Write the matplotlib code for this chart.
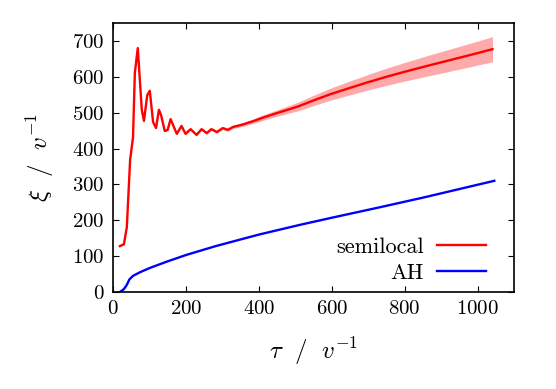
import numpy as np
import matplotlib.pyplot as plt

plt.rcParams['font.family'] = 'serif'
plt.rcParams['font.serif'] = ['cmr10']
plt.rcParams['mathtext.fontset'] = 'cm'
plt.rcParams['axes.formatter.use_mathtext'] = True

# semilocal string network length
tau_semi = [19, 30, 38, 47, 55, 60, 68, 79, 85, 94, 101, 110, 118, 126, 132, 142,
            150, 158, 175, 188, 199, 213, 229, 243, 257, 270, 285, 301, 315, 329,
            356, 384, 411, 438, 466, 507, 550, 595, 650, 700, 750, 800, 868, 950,
            1000, 1041]
xi_semi = [128, 133, 181, 368, 432, 611, 680, 508, 477, 549, 561, 474, 457, 508, 493, 449,
           452, 482, 441, 463, 441, 454, 438, 454, 443, 454, 446, 457, 452, 460,
           467, 476, 486, 495, 504, 517, 534, 551, 569, 585, 600, 614, 632, 653,
           666, 677]
# error band
tau_err = [19, 250, 350, 450, 600, 750, 900, 1041]
err = [2, 3, 5, 9, 17, 24, 30, 35]

# Abelian-Higgs
tau_ah = [19, 30, 38, 45, 55, 74, 101, 146, 200, 282, 400, 512, 600, 731, 850, 950, 1046]
xi_ah = [0, 8, 20, 35, 45, 55, 67, 84, 103, 128, 160, 187, 207, 236, 263, 287, 310]

fig = plt.figure(figsize=(5.56, 3.89), dpi=100)
ax = fig.add_axes([0.2032, 0.2494, 0.7213, 0.6915])

e = np.interp(tau_semi, tau_err, err)
ax.fill_between(tau_semi, np.array(xi_semi) - e, np.array(xi_semi) + e,
                color='#ffaaaa', lw=0)
ax.plot(tau_semi, xi_semi, color='red', lw=1.7, label='semilocal')
ax.plot(tau_ah, xi_ah, color='blue', lw=1.7, label='AH')

ax.set_xlim(0, 1100)
ax.set_ylim(0, 750)
ax.set_xticks([0, 200, 400, 600, 800, 1000])
ax.set_yticks([0, 100, 200, 300, 400, 500, 600, 700])
ax.tick_params(direction='in', top=True, right=True, length=4.5, width=0.8,
               labelsize=15, pad=6)
for s in ax.spines.values():
    s.set_linewidth(1.2)

ax.set_xlabel(r'$\tau\ \ /\ \ v^{\mathrm{-1}}$', fontsize=18, labelpad=12)
ax.set_ylabel(r'$\xi\ \ /\ \ v^{\mathrm{-1}}$', fontsize=18, labelpad=12)

ax.legend(loc='lower right', bbox_to_anchor=(0.953, 0.0), frameon=False,
          markerfirst=False, fontsize=16, handlelength=2.2, labelspacing=0.3,
          borderaxespad=0, borderpad=0.4, handletextpad=0.6)

fig.savefig('out.png', dpi=100)
